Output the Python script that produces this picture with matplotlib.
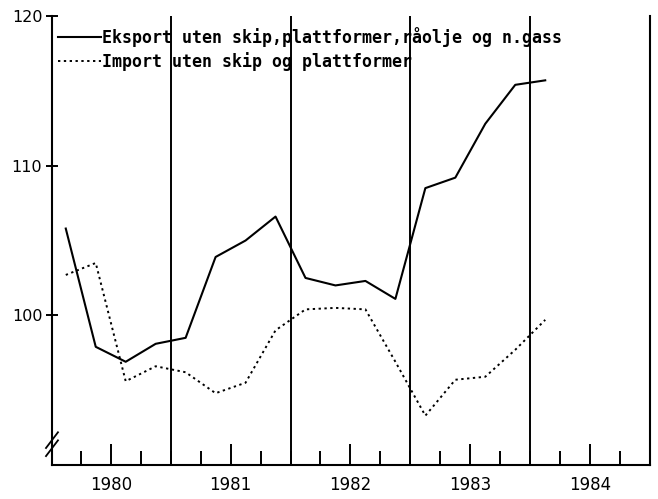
import matplotlib.pyplot as plt

# Kvartalsdata (indeks), lest av figuren
kvartal = ["1980K1", "1980K2", "1980K3", "1980K4",
           "1981K1", "1981K2", "1981K3", "1981K4",
           "1982K1", "1982K2", "1982K3", "1982K4",
           "1983K1", "1983K2", "1983K3", "1983K4",
           "1984K1"]
eksport = [105.8, 97.9, 96.9, 98.1, 98.5, 103.9, 105.0, 106.6,
           102.5, 102.0, 102.3, 101.1, 108.5, 109.2, 112.8, 115.4, 115.7]
importv = [102.7, 103.5, 95.6, 96.6, 96.2, 94.8, 95.5, 99.0,
           100.4, 100.5, 100.4, 96.9, 93.3, 95.7, 95.9, 97.7, 99.7]
aar = [1980, 1981, 1982, 1983, 1984]
y_ticks = [100, 110, 120]

navn_eksport = "Eksport uten skip,plattformer,råolje og n.gass"
navn_import = "Import uten skip og plattformer"

# kvartal -> midtpunkt i kvartalet
x = [int(k[:4]) + (int(k[5]) - 0.5) / 4 for k in kvartal]

fig = plt.figure(figsize=(6.58, 4.99), dpi=100)
ax = fig.add_axes([0.079, 0.068, 0.909, 0.9])

ax.plot(x, eksport, color="black", lw=1.5, label=navn_eksport)
ax.plot(x, importv, color="black", lw=1.4, linestyle=(0, (1.2, 1.8)), label=navn_import)

# Loddrette linjer ved årsskifte
for a in aar[1:]:
    ax.axvline(a, color="black", lw=1.4)

ax.set_xlim(aar[0] + 0.01, aar[-1] + 1)
ax.set_ylim(90, 120)

ax.set_xticks([a + 0.5 for a in aar])
ax.set_xticklabels([str(a) for a in aar], fontsize=12)
ax.set_xticks([a + q / 4 for a in aar for q in (1, 3, 4)], minor=True)
ax.tick_params(axis="x", which="major", direction="in", length=15, width=1.4, pad=8)
ax.tick_params(axis="x", which="minor", direction="in", length=10, width=1.4)

ax.set_yticks(y_ticks)
ax.set_yticklabels([str(v) for v in y_ticks], fontsize=11.5)
ax.tick_params(axis="y", direction="inout", length=8, width=1.4, pad=3)

ax.spines["top"].set_visible(False)
for s in ["left", "right", "bottom"]:
    ax.spines[s].set_linewidth(1.5)

# Brudd i y-aksen
for dy in (0.0, 0.018):
    ax.plot([-0.01, 0.01], [0.02 + dy, 0.055 + dy], transform=ax.transAxes,
            color="black", lw=1.3, clip_on=False)

leg = ax.legend(loc="upper left", bbox_to_anchor=(0.01, 0.975), frameon=False,
                prop={"family": "DejaVu Sans Mono", "size": 12, "weight": "bold"},
                handlelength=2.6, handletextpad=0.05, labelspacing=0.28,
                borderpad=0, borderaxespad=0)

fig.savefig("out.png", dpi=100)
